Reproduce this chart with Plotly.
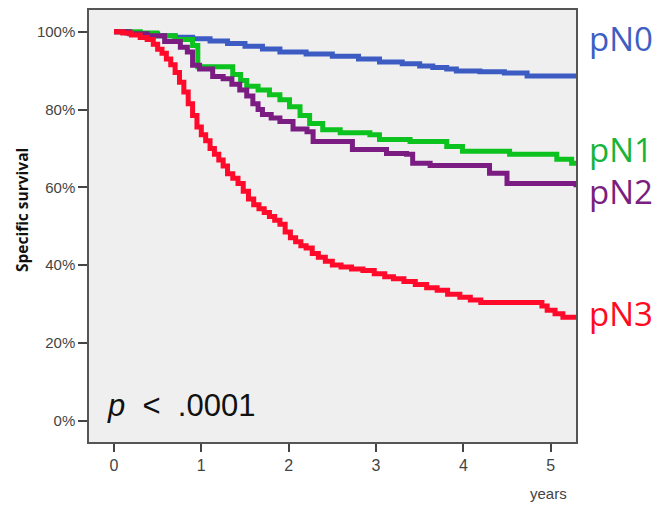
import plotly.graph_objects as go

# Kaplan-Meier style survival curves (years, % specific survival)
pN0_t = [0, 0.15, 0.3, 0.5, 0.7, 0.9, 1.1, 1.3, 1.5, 1.7, 1.9, 2.2, 2.5, 2.8, 3.04, 3.3, 3.5, 3.65, 3.81, 3.92, 4.19, 4.47, 4.73, 5.29]
pN0_s = [100, 99.7, 99.4, 99.0, 98.6, 98.2, 97.6, 97.0, 96.3, 95.6, 94.8, 94.3, 93.7, 93.0, 92.2, 91.8, 91.2, 90.8, 90.4, 89.9, 89.7, 89.4, 88.6, 88.6]

pN1_t = [0, 0.3, 0.49, 0.7, 0.9, 0.96, 1.36, 1.45, 1.52, 1.65, 1.78, 1.9, 2.01, 2.13, 2.24, 2.39, 2.59, 2.93, 3.04, 3.39, 3.81, 3.99, 4.53, 5.07, 5.24, 5.29]
pN1_s = [100, 99.7, 99.0, 98.0, 96.5, 91.0, 89.0, 87.5, 86.0, 85.0, 83.8, 82.5, 80.7, 78.5, 76.4, 74.8, 74.0, 73.5, 72.3, 71.8, 70.5, 69.3, 68.5, 67.2, 66.2, 66.2]

pN2_t = [0, 0.18, 0.38, 0.58, 0.76, 0.84, 0.9, 0.98, 1.13, 1.25, 1.35, 1.44, 1.52, 1.59, 1.65, 1.7, 1.8, 1.9, 2.05, 2.21, 2.28, 2.7, 2.73, 3.12, 3.35, 3.42, 3.62, 4.3, 4.5, 5.18, 5.29]
pN2_s = [100, 99.5, 99.0, 97.5, 96.0, 94.8, 91.4, 90.4, 88.5, 87.9, 86.5, 85.0, 83.5, 81.5, 80.0, 78.7, 77.8, 76.9, 75.0, 74.3, 71.8, 71.8, 69.7, 68.7, 68.5, 66.2, 65.6, 63.6, 61.0, 61.0, 60.0]

pN3_t = [0, 0.1, 0.2, 0.3, 0.38, 0.45, 0.5, 0.55, 0.6, 0.65, 0.7, 0.75, 0.8, 0.85, 0.9, 0.95, 1.0, 1.05, 1.1, 1.15, 1.2, 1.25, 1.3, 1.36, 1.42, 1.48, 1.54, 1.6, 1.66, 1.72, 1.78, 1.84, 1.9, 1.96, 2.02, 2.08, 2.14, 2.2, 2.27, 2.34, 2.42, 2.5, 2.6, 2.72, 2.85, 2.98, 3.1, 3.2, 3.32, 3.45, 3.58, 3.7, 3.82, 3.96, 4.08, 4.2, 4.84, 4.9, 4.96, 5.05, 5.14, 5.29]
pN3_s = [100, 99.7, 99.2, 98.5, 98.0, 96.8, 95.5, 94.5, 93.0, 91.5, 89.5, 87.0, 84.5, 81.5, 78.5, 75.5, 73.5, 72.0, 70.0, 68.5, 67.0, 65.5, 63.5, 62.3, 61.0, 59.0, 57.0, 55.5, 54.5, 53.5, 52.5, 51.5, 50.5, 48.5, 47.0, 46.0, 45.0, 44.4, 43.0, 42.0, 41.0, 40.0, 39.5, 39.0, 38.6, 37.8, 37.0, 36.5, 35.8, 35.0, 34.2, 33.5, 32.5, 31.7, 31.0, 30.4, 30.4, 29.5, 28.4, 27.5, 26.6, 26.6]

x_ticks = [0, 1, 2, 3, 4, 5]
y_ticks = [0, 20, 40, 60, 80, 100]
y_ticktext = ["0%", "20%", "40%", "60%", "80%", "100%"]

series = [
    ("pN0", pN0_t, pN0_s, "#3C5CC4", "#3D5EC2"),
    ("pN1", pN1_t, pN1_s, "#0CC21E", "#18B43A"),
    ("pN2", pN2_t, pN2_s, "#7A1C82", "#7A1F80"),
    ("pN3", pN3_t, pN3_s, "#FF0A2A", "#FF0A1E"),
]

fig = go.Figure()
for name, t, s, col, _ in series:
    fig.add_trace(go.Scatter(x=t, y=s, mode="lines", line=dict(color=col, width=5, shape="hv"),
                             name=name, showlegend=False))

W, H = 659, 506
L, R, T, B = 89, 576, 8, 442

def px(xp):
    return (xp - L) / (R - L)

def py(yp):
    return (B - yp) / (B - T)

label_y = {"pN0": 37, "pN1": 148, "pN2": 190, "pN3": 313}
ann = []
for name, _, _, _, lc in series:
    ann.append(dict(text=name, x=px(587), y=py(label_y[name]), xref="paper", yref="paper",
                    xanchor="left", yanchor="middle", showarrow=False,
                    font=dict(family="Open Sans", size=33, color=lc)))

ann.append(dict(text="<i>p</i>  <  .0001", x=px(105), y=py(405), xref="paper", yref="paper",
                xanchor="left", yanchor="middle", showarrow=False,
                font=dict(family="Liberation Sans", size=31, color="#111111")))
ann.append(dict(text="<b>Specific survival</b>", x=-(L - 22) / (R - L), y=py(209), xref="paper", yref="paper",
                xanchor="center", yanchor="middle", showarrow=False, textangle=-90,
                font=dict(family="Open Sans", size=15.5, color="#111111")))
ann.append(dict(text="years", x=px(548), y=py(494), xref="paper", yref="paper",
                xanchor="center", yanchor="middle", showarrow=False,
                font=dict(family="Liberation Sans", size=15, color="#444444")))

fig.update_layout(
    width=W, height=H,
    margin=dict(l=L, r=W - R, t=T, b=H - B),
    paper_bgcolor="white", plot_bgcolor="#EFEFEF",
    annotations=ann,
    xaxis=dict(range=[-0.286, 5.29], tickvals=x_ticks, showgrid=False, zeroline=False,
               ticks="outside", ticklen=8, tickwidth=1.5, tickcolor="#444",
               showline=True, mirror=True, linecolor="#555", linewidth=1.5,
               tickfont=dict(family="Liberation Sans", size=16, color="#444")),
    yaxis=dict(range=[-5.5, 105.6], tickvals=y_ticks, ticktext=y_ticktext, showgrid=False, zeroline=False,
               ticks="outside", ticklen=9, tickwidth=1.5, tickcolor="#444",
               showline=True, mirror=True, linecolor="#555", linewidth=1.5,
               tickfont=dict(family="Liberation Sans", size=15, color="#444")),
)

fig.write_html("out.html")
